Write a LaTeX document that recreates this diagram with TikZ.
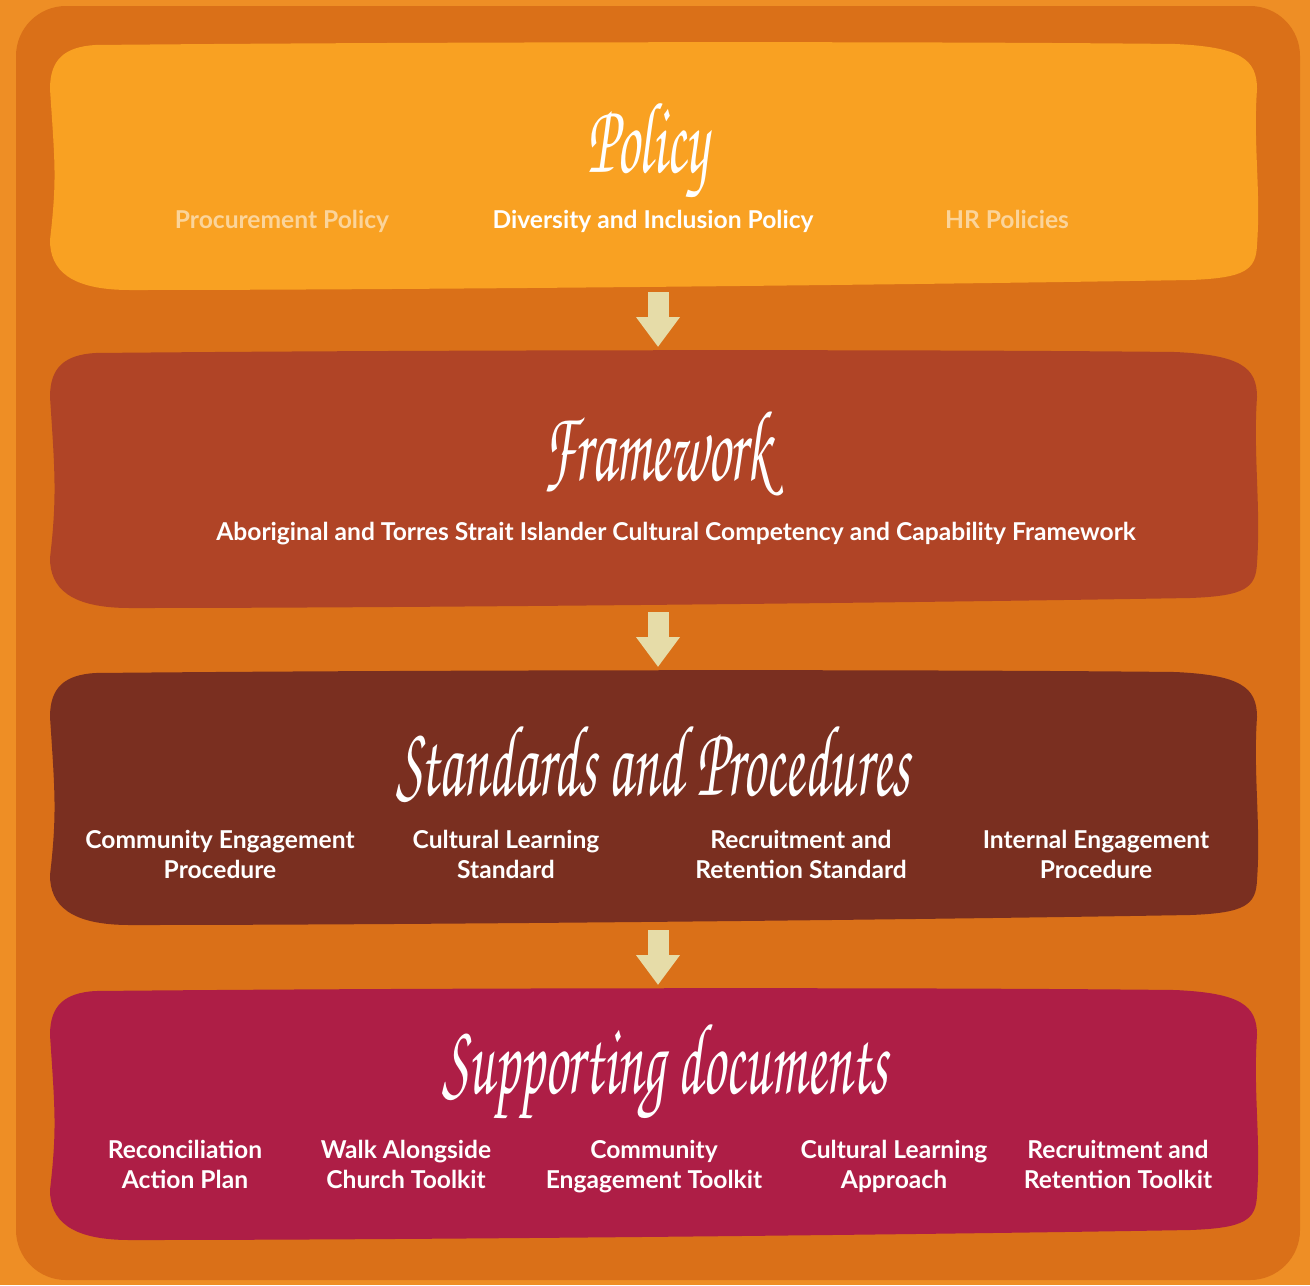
\documentclass[tikz,border=0pt]{standalone}
\usepackage{fontspec}
\usepackage{graphicx}
\setmainfont{Lato}
\newfontfamily\handfont{texgyrechorus-mediumitalic.otf}
\usetikzlibrary{arrows.meta}

\definecolor{bgorange}{HTML}{EE8E25}
\definecolor{frameorange}{HTML}{DA7018}
\definecolor{policycol}{HTML}{F9A122}
\definecolor{frameworkcol}{HTML}{B04426}
\definecolor{standardcol}{HTML}{7A2F20}
\definecolor{supportcol}{HTML}{AE1E46}
\definecolor{arrowcol}{HTML}{E6DCA8}
\definecolor{fadedtext}{HTML}{FBD49A}

% wavy band: colour, top, bottom
\newcommand{\band}[3]{%
\fill[#1] (95,#2+1) .. controls (400,#2-2) and (900,#2-3) .. (1175,#2)
 .. controls (1240,#2+3) and (1257,#2+15) .. (1257,#2+45)
 .. controls (1253,#2+100) and (1261,#3-100) .. (1257,#3-45)
 .. controls (1256,#3-20) and (1245,#3-12) .. (1190,#3-10)
 .. controls (900,#3-5) and (400,#3) .. (130,#3)
 .. controls (70,#3) and (50,#3-20) .. (50,#3-50)
 .. controls (57,#3-110) and (55,#2+120) .. (50,#2+45)
 .. controls (50,#2+15) and (65,#2+3) .. cycle;}
% tall hand-written heading
\newcommand{\hand}[1]{\scalebox{0.95}[1.7]{#1}}

\tikzset{
  title/.style={text=white, inner sep=0pt, anchor=base,
    font=\handfont\fontsize{34}{34}\selectfont},
  item/.style={text=white, inner sep=0pt, align=center, anchor=base,
    font=\bfseries\fontsize{14}{17}\selectfont},
  faded/.style={item, text=fadedtext},
  down/.style={draw=arrowcol, line width=0.42cm,
    -{Triangle[width=0.84cm, length=0.6cm]}}
}

\begin{document}
\begin{tikzpicture}[x=0.02cm, y=-0.02cm]
\useasboundingbox (0,0) rectangle (1310,1285);
% background
\fill[bgorange] (0,0) rectangle (1310,1285);
\fill[frameorange, rounded corners=1cm] (16,6) rectangle (1300,1280);
% bands
\band{policycol}{44}{290}
\band{frameworkcol}{352}{608}
\band{standardcol}{672}{925}
\band{supportcol}{990}{1240}
% policy
\node[title] (policy) at (648,172) {\hand{Policy}};
\node[faded] (procurement) at (282,228) {Procurement Policy};
\node[item] (diversity) at (653,228) {Diversity and Inclusion Policy};
\node[faded] (hr) at (1007,228) {HR Policies};
% framework
\node[title] (framework) at (657,480) {\hand{Framework}};
\node[item] (competency) at (676,540) {Aboriginal and Torres Strait Islander Cultural Competency and Capability Framework};
% standards and procedures (base = last line)
\node[title] (standards) at (653,795) {\hand{Standards and Procedures}};
\node[item] (commproc) at (220,878) {Community Engagement\\Procedure};
\node[item] (learnstd) at (506,878) {Cultural Learning\\Standard};
\node[item] (recruitstd) at (801,878) {Recruitment and\\Retention Standard};
\node[item] (internal) at (1096,878) {Internal Engagement\\Procedure};
% supporting documents
\node[title] (supporting) at (665,1093) {\hand{Supporting documents}};
\node[item] (rap) at (185,1188) {Reconciliation\\Action Plan};
\node[item] (walk) at (406,1188) {Walk Alongside\\Church Toolkit};
\node[item] (commkit) at (654,1188) {Community\\Engagement Toolkit};
\node[item] (learnapp) at (894,1188) {Cultural Learning\\Approach};
\node[item] (recruitkit) at (1118,1188) {Recruitment and\\Retention Toolkit};
% arrows between bands
\coordinate (policy-s) at (658,292);
\coordinate (framework-n) at (658,347);
\coordinate (framework-s) at (658,612);
\coordinate (standards-n) at (658,667);
\coordinate (standards-s) at (658,930);
\coordinate (supporting-n) at (658,985);
\draw[down] (policy-s) -- (framework-n);
\draw[down] (framework-s) -- (standards-n);
\draw[down] (standards-s) -- (supporting-n);
\end{tikzpicture}
\end{document}
